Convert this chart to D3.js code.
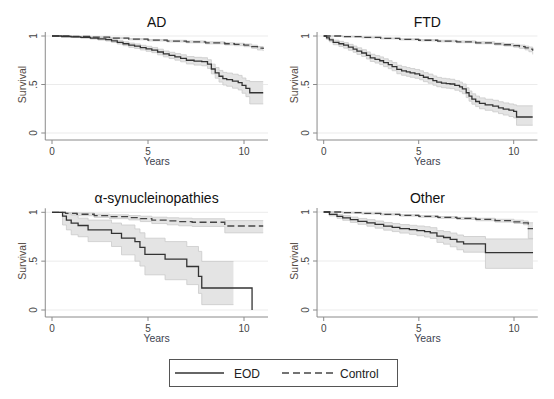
<!DOCTYPE html>
<html>
<head>
<meta charset="utf-8">
<script src="https://d3js.org/d3.v7.min.js"></script>
<style>
    body { margin: 0; background: #fff; }
    text { font-family: "Liberation Sans", Arial, sans-serif; }
</style>
</head>
<body>
<div id="chart"></div>
<script>
// ---- data (Kaplan-Meier steps + 95% CI) ----
const panelTitles = ["AD", "FTD", "\u03b1-synucleinopathies", "Other"]
const xTicks = [0, 5, 10]
const yTicks = [0, 0.5, 1]
const yTickLabels = ["0", ".5", "1"]
const legendLabels = ["EOD", "Control"]

// AD
const adEodTime = [0, 0.5, 1, 1.5, 2, 2.4, 2.8, 3.1, 3.4, 3.7, 4.0, 4.3, 4.6, 4.9, 5.2, 5.5, 5.8, 6.1, 6.4, 6.7, 7.0, 7.4, 7.8, 8.1, 8.3, 8.5, 8.7, 8.9, 9.1, 9.4, 9.7, 9.9, 10.1, 10.3, 11.0]
const adEodSurv = [1, 0.995, 0.99, 0.985, 0.978, 0.97, 0.962, 0.95, 0.935, 0.92, 0.905, 0.895, 0.88, 0.868, 0.855, 0.835, 0.815, 0.8, 0.785, 0.77, 0.75, 0.74, 0.735, 0.71, 0.66, 0.62, 0.585, 0.56, 0.55, 0.535, 0.52, 0.49, 0.46, 0.415, 0.415]
const adEodLo = [1, 0.99, 0.984, 0.977, 0.968, 0.958, 0.948, 0.934, 0.917, 0.9, 0.883, 0.872, 0.856, 0.842, 0.828, 0.806, 0.785, 0.768, 0.751, 0.734, 0.712, 0.7, 0.693, 0.665, 0.61, 0.565, 0.525, 0.495, 0.482, 0.462, 0.444, 0.41, 0.375, 0.3, 0.3]
const adEodHi = [1, 1, 0.995, 0.992, 0.987, 0.981, 0.975, 0.965, 0.952, 0.94, 0.927, 0.918, 0.904, 0.894, 0.882, 0.864, 0.845, 0.832, 0.819, 0.806, 0.788, 0.78, 0.776, 0.755, 0.71, 0.675, 0.645, 0.625, 0.618, 0.606, 0.594, 0.567, 0.54, 0.53, 0.53]
const adCtrlTime = [0, 1, 2, 3, 4, 5, 6, 7, 8, 9, 9.5, 10, 10.4, 10.7, 11]
const adCtrlSurv = [1, 0.995, 0.988, 0.978, 0.968, 0.957, 0.948, 0.94, 0.93, 0.92, 0.913, 0.905, 0.89, 0.875, 0.865]
const adCtrlLo = [1, 0.991, 0.983, 0.972, 0.961, 0.949, 0.939, 0.93, 0.919, 0.908, 0.9, 0.89, 0.873, 0.856, 0.845]
const adCtrlHi = [1, 0.998, 0.992, 0.983, 0.974, 0.964, 0.956, 0.949, 0.94, 0.931, 0.925, 0.918, 0.905, 0.892, 0.883]

// FTD
const ftdEodTime = [0, 0.15, 0.3, 0.5, 0.8, 1.05, 1.3, 1.55, 1.75, 2.0, 2.25, 2.45, 2.7, 2.95, 3.15, 3.4, 3.6, 3.85, 4.1, 4.35, 4.55, 4.8, 5.05, 5.25, 5.5, 5.75, 5.95, 6.2, 6.45, 6.65, 6.9, 7.15, 7.3, 7.5, 7.65, 7.8, 8.0, 8.2, 8.5, 8.9, 9.2, 9.45, 9.75, 10.0, 10.15, 11.0]
const ftdEodSurv = [1, 0.98, 0.96, 0.935, 0.92, 0.905, 0.885, 0.865, 0.845, 0.825, 0.8, 0.775, 0.76, 0.745, 0.725, 0.705, 0.685, 0.655, 0.64, 0.63, 0.62, 0.61, 0.595, 0.575, 0.56, 0.54, 0.525, 0.515, 0.51, 0.505, 0.49, 0.475, 0.455, 0.415, 0.38, 0.35, 0.325, 0.305, 0.29, 0.277, 0.26, 0.247, 0.235, 0.223, 0.165, 0.165]
const ftdEodLo = [1, 0.965, 0.94, 0.91, 0.892, 0.875, 0.853, 0.832, 0.81, 0.789, 0.763, 0.737, 0.721, 0.705, 0.684, 0.663, 0.642, 0.611, 0.595, 0.585, 0.574, 0.564, 0.549, 0.529, 0.513, 0.493, 0.477, 0.467, 0.462, 0.457, 0.441, 0.426, 0.405, 0.365, 0.328, 0.297, 0.272, 0.25, 0.234, 0.218, 0.2, 0.185, 0.17, 0.155, 0.08, 0.08]
const ftdEodHi = [1, 0.993, 0.978, 0.957, 0.945, 0.932, 0.914, 0.896, 0.878, 0.859, 0.836, 0.812, 0.798, 0.784, 0.765, 0.746, 0.727, 0.698, 0.684, 0.674, 0.665, 0.655, 0.641, 0.622, 0.607, 0.588, 0.573, 0.564, 0.559, 0.554, 0.539, 0.525, 0.505, 0.466, 0.433, 0.404, 0.38, 0.362, 0.348, 0.337, 0.322, 0.31, 0.3, 0.29, 0.28, 0.28]
const ftdCtrlTime = [0, 1, 2, 3, 4, 5, 6, 7, 8, 9, 9.5, 10, 10.3, 10.6, 10.8, 11]
const ftdCtrlSurv = [1, 0.993, 0.985, 0.975, 0.965, 0.956, 0.948, 0.94, 0.93, 0.918, 0.91, 0.9, 0.89, 0.878, 0.865, 0.848]
const ftdCtrlLo = [1, 0.989, 0.98, 0.97, 0.959, 0.949, 0.94, 0.931, 0.92, 0.907, 0.897, 0.885, 0.872, 0.857, 0.838, 0.81]
const ftdCtrlHi = [1, 0.997, 0.99, 0.98, 0.971, 0.963, 0.956, 0.949, 0.94, 0.929, 0.922, 0.914, 0.906, 0.896, 0.886, 0.875]

// alpha-synucleinopathies (EOD band stops before the last step)
const synEodTime = [0, 0.55, 0.75, 1.0, 1.36, 1.88, 3.1, 3.62, 4.32, 4.58, 4.84, 5.89, 7.02, 7.63, 7.8, 10.42]
const synEodSurv = [1, 0.96, 0.92, 0.89, 0.865, 0.82, 0.785, 0.735, 0.70, 0.64, 0.57, 0.52, 0.445, 0.345, 0.225, 0]
const synBandTime = [0, 0.55, 0.75, 1.0, 1.36, 1.88, 3.1, 3.62, 4.32, 4.58, 4.84, 5.89, 7.02, 7.63, 7.8, 9.45]
const synEodLo = [1, 0.87, 0.82, 0.77, 0.75, 0.70, 0.65, 0.565, 0.5, 0.45, 0.36, 0.31, 0.26, 0.17, 0.055, 0.055]
const synEodHi = [1, 1, 0.985, 0.97, 0.94, 0.92, 0.89, 0.87, 0.83, 0.79, 0.735, 0.70, 0.65, 0.6, 0.497, 0.497]
const synCtrlTime = [0, 0.7, 1.3, 2.2, 3.0, 4.0, 4.6, 5.2, 6.0, 6.6, 7.3, 9.0, 11.0]
const synCtrlSurv = [1, 0.99, 0.98, 0.966, 0.955, 0.946, 0.935, 0.92, 0.912, 0.905, 0.898, 0.86, 0.86]
const synCtrlLo = [1, 0.98, 0.965, 0.948, 0.935, 0.922, 0.905, 0.885, 0.872, 0.862, 0.855, 0.79, 0.79]
const synCtrlHi = [1, 0.998, 0.993, 0.982, 0.974, 0.967, 0.96, 0.95, 0.944, 0.94, 0.934, 0.915, 0.915]

// Other
const othEodTime = [0, 0.3, 0.7, 1.0, 1.4, 1.8, 2.27, 2.7, 3.15, 3.6, 4.0, 4.5, 4.9, 5.3, 5.6, 5.95, 6.3, 6.65, 7.0, 7.35, 8.5, 11.0]
const othEodSurv = [1, 0.975, 0.956, 0.94, 0.922, 0.905, 0.89, 0.873, 0.855, 0.843, 0.83, 0.82, 0.81, 0.8, 0.787, 0.753, 0.74, 0.72, 0.695, 0.675, 0.585, 0.585]
const othEodLo = [1, 0.96, 0.935, 0.915, 0.894, 0.874, 0.855, 0.835, 0.815, 0.8, 0.785, 0.772, 0.758, 0.745, 0.73, 0.69, 0.672, 0.645, 0.615, 0.59, 0.425, 0.425]
const othEodHi = [1, 0.99, 0.975, 0.963, 0.948, 0.934, 0.922, 0.908, 0.893, 0.883, 0.872, 0.864, 0.857, 0.85, 0.84, 0.81, 0.8, 0.785, 0.765, 0.75, 0.725, 0.725]
const othCtrlTime = [0, 1, 2, 3, 4, 5, 6, 7, 8, 9, 10, 10.5, 10.75, 11]
const othCtrlSurv = [1, 0.993, 0.985, 0.976, 0.966, 0.955, 0.945, 0.935, 0.924, 0.912, 0.9, 0.89, 0.83, 0.83]
const othCtrlLo = [1, 0.988, 0.979, 0.969, 0.958, 0.946, 0.935, 0.924, 0.911, 0.897, 0.883, 0.87, 0.73, 0.73]
const othCtrlHi = [1, 0.997, 0.99, 0.982, 0.973, 0.963, 0.954, 0.945, 0.936, 0.926, 0.916, 0.908, 0.89, 0.89]

// build the per panel tables
function km(time, surv) {
    return time.map((t, i) => ({t: t, s: surv[i]}))
}
function band(time, lo, hi) {
    return time.map((t, i) => ({t: t, lo: lo[i], hi: hi[i]}))
}

const panels = [
    {title: panelTitles[0], x: [52, 244], y: [133, 36],
        eod: km(adEodTime, adEodSurv), eodBand: band(adEodTime, adEodLo, adEodHi),
        ctrl: km(adCtrlTime, adCtrlSurv), ctrlBand: band(adCtrlTime, adCtrlLo, adCtrlHi)},
    {title: panelTitles[1], x: [323.7, 513.7], y: [133, 36],
        eod: km(ftdEodTime, ftdEodSurv), eodBand: band(ftdEodTime, ftdEodLo, ftdEodHi),
        ctrl: km(ftdCtrlTime, ftdCtrlSurv), ctrlBand: band(ftdCtrlTime, ftdCtrlLo, ftdCtrlHi)},
    {title: panelTitles[2], x: [52, 244], y: [310, 212.3],
        eod: km(synEodTime, synEodSurv), eodBand: band(synBandTime, synEodLo, synEodHi),
        ctrl: km(synCtrlTime, synCtrlSurv), ctrlBand: band(synCtrlTime, synCtrlLo, synCtrlHi)},
    {title: panelTitles[3], x: [323.7, 514], y: [310, 212],
        eod: km(othEodTime, othEodSurv), eodBand: band(othEodTime, othEodLo, othEodHi),
        ctrl: km(othCtrlTime, othCtrlSurv), ctrlBand: band(othCtrlTime, othCtrlLo, othCtrlHi)}
]

const width = 554
const height = 399

const svg = d3.select("#chart")
    .append("svg")
    .attr("width", width)
    .attr("height", height)

svg.append("rect").attr("width", width).attr("height", height).attr("fill", "#fff")

panels.forEach(p => drawPanel(p))
drawLegend()

function drawPanel(p) {
    const x = d3.scaleLinear().domain([0, 10]).range(p.x)
    const y = d3.scaleLinear().domain([0, 1]).range(p.y)

    const left = x(-0.35)
    const right = x(11.25)
    const bottom = y(0) + 7
    const g = svg.append("g")

    // gridlines
    g.selectAll(".grid")
        .data(yTicks)
        .enter().append("line")
        .attr("x1", left).attr("x2", right)
        .attr("y1", d => y(d)).attr("y2", d => y(d))
        .attr("stroke", "#ebebeb")
        .attr("stroke-width", 1)

    const area = d3.area()
        .curve(d3.curveStepAfter)
        .x(d => x(d.t))
        .y0(d => y(d.lo))
        .y1(d => y(d.hi))
    const edgeLo = d3.line().curve(d3.curveStepAfter).x(d => x(d.t)).y(d => y(d.lo))
    const edgeHi = d3.line().curve(d3.curveStepAfter).x(d => x(d.t)).y(d => y(d.hi))
    const step = d3.line().curve(d3.curveStepAfter).x(d => x(d.t)).y(d => y(d.s))

    // confidence bands first
    ;[p.ctrlBand, p.eodBand].forEach(b => {
        g.append("path").datum(b).attr("d", area)
            .attr("fill", "#e4e4e4").attr("stroke", "none")
        g.append("path").datum(b).attr("d", edgeLo)
            .attr("fill", "none").attr("stroke", "#cacaca").attr("stroke-width", 0.8)
        g.append("path").datum(b).attr("d", edgeHi)
            .attr("fill", "none").attr("stroke", "#cacaca").attr("stroke-width", 0.8)
    })

    g.append("path").datum(p.ctrl).attr("d", step)
        .attr("fill", "none")
        .attr("stroke", "#454545")
        .attr("stroke-width", 1.3)
        .attr("stroke-dasharray", "7,3.5")

    g.append("path").datum(p.eod).attr("d", step)
        .attr("fill", "none")
        .attr("stroke", "#333")
        .attr("stroke-width", 1.3)

    // axes, drawn by hand in Stata style
    const axisCol = "#8a8a8a"
    g.append("line")
        .attr("x1", left).attr("x2", left)
        .attr("y1", y(1) - 4).attr("y2", bottom)
        .attr("stroke", axisCol)
    g.append("line")
        .attr("x1", left).attr("x2", right)
        .attr("y1", bottom).attr("y2", bottom)
        .attr("stroke", axisCol)

    g.selectAll(".ytick")
        .data(yTicks)
        .enter().append("line")
        .attr("x1", left - 4).attr("x2", left)
        .attr("y1", d => y(d)).attr("y2", d => y(d))
        .attr("stroke", axisCol)
    g.selectAll(".ylab")
        .data(yTicks)
        .enter().append("text")
        .attr("transform", d => "translate(" + (left - 8) + "," + y(d) + ") rotate(-90)")
        .attr("text-anchor", "middle")
        .attr("font-size", 10)
        .attr("fill", "#444")
        .text((d, i) => yTickLabels[i])

    g.selectAll(".xtick")
        .data(xTicks)
        .enter().append("line")
        .attr("x1", d => x(d)).attr("x2", d => x(d))
        .attr("y1", bottom).attr("y2", bottom + 4)
        .attr("stroke", axisCol)
    g.selectAll(".xlab")
        .data(xTicks)
        .enter().append("text")
        .attr("x", d => x(d))
        .attr("y", bottom + 14.5)
        .attr("text-anchor", "middle")
        .attr("font-size", 10)
        .attr("fill", "#444")
        .text(d => d)

    // titles
    g.append("text")
        .attr("x", (left + right) / 2)
        .attr("y", bottom + 25)
        .attr("text-anchor", "middle")
        .attr("font-size", 10.5)
        .attr("fill", "#3d4350")
        .text("Years")
    g.append("text")
        .attr("transform", "translate(" + (left - 19) + "," + y(0.5) + ") rotate(-90)")
        .attr("text-anchor", "middle")
        .attr("font-size", 10.5)
        .attr("fill", "#554a44")
        .text("Survival")
    g.append("text")
        .attr("x", (left + right) / 2)
        .attr("y", y(1) - 9)
        .attr("text-anchor", "middle")
        .attr("font-size", 14)
        .attr("fill", "#111")
        .text(p.title)
}

function drawLegend() {
    const lg = svg.append("g")
    lg.append("rect")
        .attr("x", 169.5).attr("y", 359.5)
        .attr("width", 228).attr("height", 27)
        .attr("fill", "#fff")
        .attr("stroke", "#555")
        .attr("stroke-width", 1)

    lg.append("line")
        .attr("x1", 175).attr("x2", 224)
        .attr("y1", 373).attr("y2", 373)
        .attr("stroke", "#333").attr("stroke-width", 1.3)
    lg.append("text")
        .attr("x", 234).attr("y", 377.5)
        .attr("font-size", 12).attr("fill", "#222")
        .text(legendLabels[0])

    lg.append("line")
        .attr("x1", 282).attr("x2", 335)
        .attr("y1", 373).attr("y2", 373)
        .attr("stroke", "#454545").attr("stroke-width", 1.3)
        .attr("stroke-dasharray", "7,4")
    lg.append("text")
        .attr("x", 340).attr("y", 377.5)
        .attr("font-size", 12).attr("fill", "#222")
        .text(legendLabels[1])
}
</script>
</body>
</html>
